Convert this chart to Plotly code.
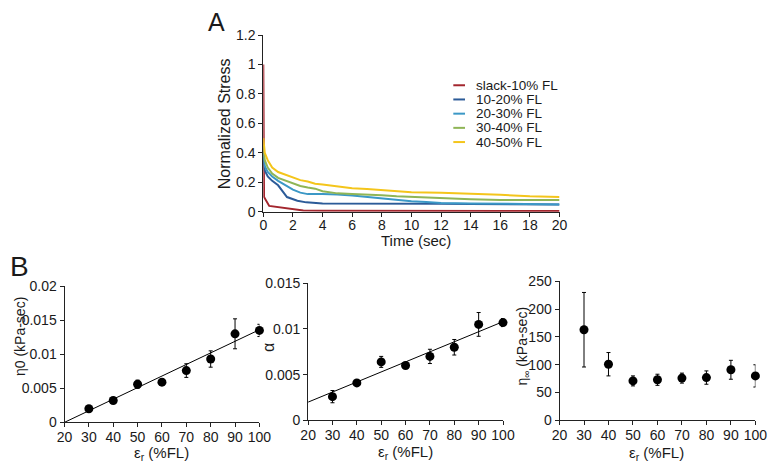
import plotly.graph_objects as go

# ---------------- Panel A data ----------------
series_names = ["slack-10% FL", "10-20% FL", "20-30% FL", "30-40% FL", "40-50% FL"]
series_colors = ["#a3262e", "#2c5b98", "#3b98c6", "#8fb556", "#f4c51b"]

t_red = [0, 0.05, 0.4, 1, 2, 2.7, 4, 8, 12, 16, 20]
s_red = [1.0, 0.1, 0.04, 0.033, 0.02, 0.009, 0.007, 0.006, 0.006, 0.005, 0.005]

t_db = [0, 0.1, 0.3, 0.6, 1, 1.6, 2.3, 2.9, 4, 6, 8, 10, 12, 14, 16, 18, 20]
s_db = [0.37, 0.28, 0.24, 0.21, 0.18, 0.1, 0.075, 0.064, 0.057, 0.055, 0.055, 0.055, 0.054, 0.053, 0.052, 0.05, 0.05]

t_lb = [0, 0.1, 0.3, 0.6, 1, 1.5, 2, 2.5, 3, 4, 5, 6, 7, 8, 9, 10, 11, 12, 14, 16, 18, 20]
s_lb = [0.4, 0.31, 0.27, 0.24, 0.21, 0.18, 0.15, 0.13, 0.12, 0.12, 0.118, 0.11, 0.1, 0.09, 0.08, 0.072, 0.066, 0.06, 0.057, 0.055, 0.052, 0.05]

t_gr = [0, 0.1, 0.3, 0.6, 1, 1.5, 2, 2.5, 3, 3.5, 4, 5, 6, 7, 8, 9, 10, 11, 12, 14, 16, 18, 20]
s_gr = [0.45, 0.35, 0.3, 0.26, 0.23, 0.21, 0.19, 0.175, 0.165, 0.157, 0.14, 0.125, 0.12, 0.118, 0.113, 0.105, 0.1, 0.095, 0.09, 0.085, 0.08, 0.08, 0.08]

t_ye = [0, 0.1, 0.3, 0.6, 1, 1.5, 2, 2.5, 3, 3.5, 4, 5, 6, 7, 8, 9, 10, 12, 14, 16, 18, 20]
s_ye = [0.5, 0.4, 0.35, 0.3, 0.27, 0.25, 0.23, 0.215, 0.205, 0.19, 0.185, 0.17, 0.16, 0.155, 0.148, 0.14, 0.132, 0.13, 0.125, 0.115, 0.105, 0.1]

# ---------------- Panel B data ----------------
strain = [30, 40, 50, 60, 70, 80, 90, 100]

eta0 = [0.0020, 0.0032, 0.0056, 0.0059, 0.0076, 0.0093, 0.0130, 0.0135]
eta0_err = [0.0002, 0.0002, 0.0006, 0.0002, 0.0010, 0.0012, 0.0022, 0.0009]
eta0_fit_x = [20, 100]
eta0_fit_y = [0.0, 0.0136]

alpha = [0.0026, 0.0041, 0.0064, 0.0060, 0.0070, 0.0080, 0.0105, 0.0107]
alpha_err = [0.00067, 0.0002, 0.0006, 0.0003, 0.00078, 0.00085, 0.0013, 0.00044]
alpha_fit_x = [20, 100]
alpha_fit_y = [0.0020, 0.0108]

eta_inf = [163, 101, 71, 73, 76, 77, 91, 80]
eta_inf_err = [67, 21, 9, 10, 9, 12, 17, 20]

FONT = "Arial, Liberation Sans, sans-serif"
TXT = "#1a1a1a"

fig = go.Figure()

curves = [(t_red, s_red), (t_db, s_db), (t_lb, s_lb), (t_gr, s_gr), (t_ye, s_ye)]
for (tx, sy), name, col in zip(curves, series_names, series_colors):
    fig.add_trace(go.Scatter(x=tx, y=sy, mode="lines", name=name,
                             line=dict(color=col, width=2),
                             xaxis="x", yaxis="y", showlegend=False))

def add_points(xa, ya, yv, err):
    fig.add_trace(go.Scatter(x=strain, y=yv, mode="markers",
                             marker=dict(color="black", size=9),
                             error_y=dict(type="data", array=err, color="black",
                                          thickness=1, width=2),
                             xaxis=xa, yaxis=ya, showlegend=False, cliponaxis=False))

def add_fit(xa, ya, fx, fy):
    fig.add_trace(go.Scatter(x=fx, y=fy, mode="lines",
                             line=dict(color="black", width=1),
                             xaxis=xa, yaxis=ya, showlegend=False))

add_fit("x2", "y2", eta0_fit_x, eta0_fit_y)
add_points("x2", "y2", eta0, eta0_err)
add_fit("x3", "y3", alpha_fit_x, alpha_fit_y)
add_points("x3", "y3", alpha, alpha_err)
add_points("x4", "y4", eta_inf, eta_inf_err)

W, H = 782, 468
def px(x):
    return x / W
def py(y):
    return 1 - y / H

axcommon = dict(showline=True, linecolor="#222", linewidth=1, ticks="outside",
                ticklen=4, tickcolor="#222", showgrid=False, zeroline=False,
                tickfont=dict(family=FONT, size=14, color=TXT))

fig.update_layout(
    width=W, height=H,
    margin=dict(l=0, r=0, t=0, b=0),
    paper_bgcolor="white", plot_bgcolor="white",
    font=dict(family=FONT, size=14, color=TXT),
    showlegend=False,
    xaxis=dict(domain=[px(262), px(566)], range=[0, 20], dtick=2, anchor="y",
               ticklabelstandoff=-4, **axcommon),
    yaxis=dict(domain=[py(211), py(28)], range=[0, 1.2], dtick=0.2, anchor="x", **axcommon),
    xaxis2=dict(domain=[px(58), px(258)], range=[20, 100], dtick=10, anchor="y2",
                ticklabelstandoff=-2, **axcommon),
    yaxis2=dict(domain=[py(429), py(288)], range=[0, 0.02], dtick=0.005, anchor="x2", **axcommon),
    xaxis3=dict(domain=[px(308), px(508)], range=[20, 100], dtick=10, anchor="y3",
                ticklabelstandoff=-2, **axcommon),
    yaxis3=dict(domain=[py(427), py(285)], range=[0, 0.015], dtick=0.005, anchor="x3", **axcommon),
    xaxis4=dict(domain=[px(566), px(767)], range=[20, 100], dtick=10, anchor="y4",
                ticklabelstandoff=-2, **axcommon),
    yaxis4=dict(domain=[py(427), py(283)], range=[0, 250], dtick=50, anchor="x4", **axcommon),
)

ann = []
shapes = []
def add_text(x, y, text, size=14, angle=0, xanchor="center"):
    ann.append(dict(x=px(x), y=py(y), xref="paper", yref="paper", text=text,
                    showarrow=False, textangle=angle, xanchor=xanchor, yanchor="middle",
                    font=dict(family=FONT, size=size, color=TXT)))

# legend for panel A (compact, like the original)
leg_x0, leg_y0, leg_dy = 457, 80, 14.7
for i, (name, col) in enumerate(zip(series_names, series_colors)):
    yy = leg_y0 + i * leg_dy
    shapes.append(dict(type="line", xref="paper", yref="paper",
                       x0=px(leg_x0), x1=px(leg_x0 + 12), y0=py(yy), y1=py(yy),
                       line=dict(color=col, width=2)))
    add_text(leg_x0 + 21, yy, name, size=13.5, xanchor="left")

add_text(203, 15, "A", size=25, xanchor="left")
add_text(0, 268, "B", size=28, xanchor="left")
add_text(223, 120, "Normalized Stress", size=16, angle=-90)
add_text(419, 241, "Time (sec)", size=15)
add_text(13, 340, "η0 (kPa-sec)", size=14, angle=-90)
add_text(268, 352, "α", size=16, angle=-90)
add_text(529, 350, "η<sub>∞</sub> (kPa-sec)", size=14, angle=-90)
add_text(158, 461, "ε<sub>r</sub> (%FL)", size=15)
add_text(408, 460, "ε<sub>r</sub> (%FL)", size=15)
add_text(666, 461, "ε<sub>r</sub> (%FL)", size=15)

fig.update_layout(annotations=ann, shapes=shapes)

fig.write_html("out.html", config={"displayModeBar": False},
               post_script="document.body.style.margin='0px';document.body.style.overflow='hidden';")
